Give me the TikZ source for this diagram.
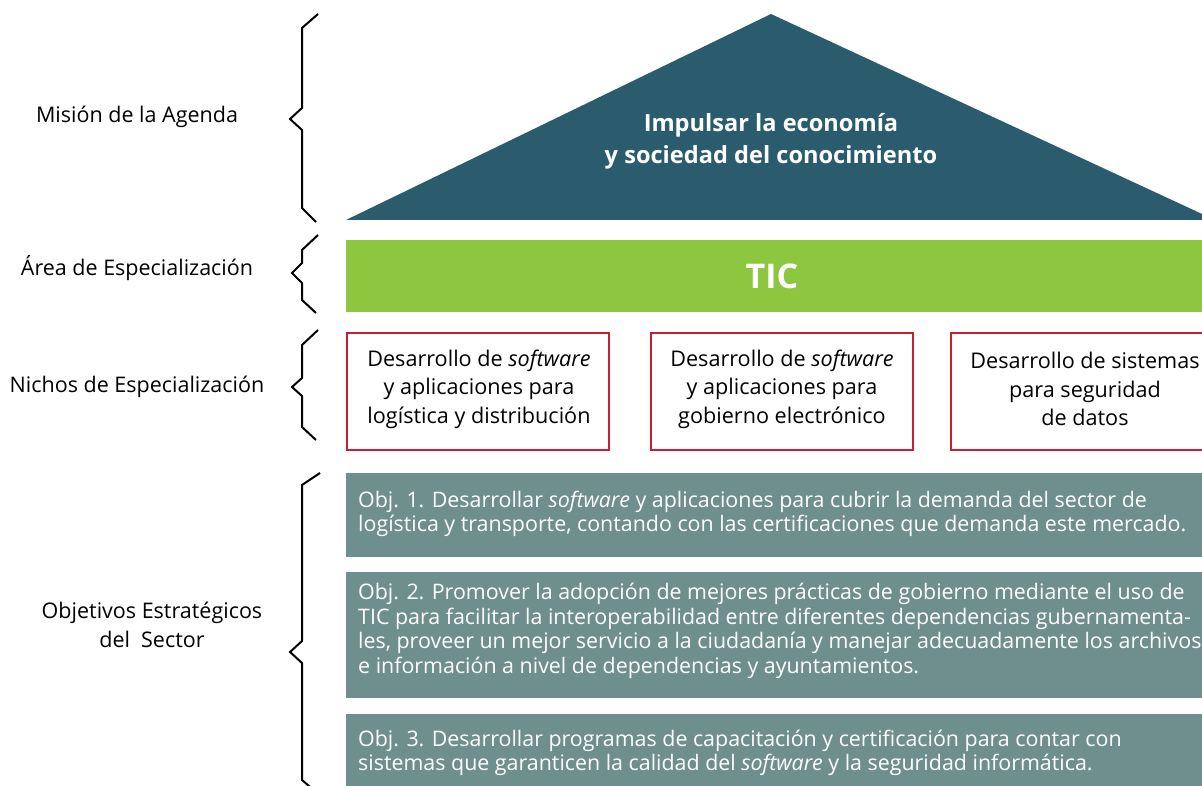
\documentclass[tikz,border=0pt]{standalone}
\usepackage{fontspec}
\setmainfont{Open Sans}
\definecolor{roof}{HTML}{2A5C6E}
\definecolor{ticgreen}{HTML}{8DC63F}
\definecolor{nred}{HTML}{C42032}
\definecolor{objfill}{HTML}{6F8F8F}
\tikzset{
  brace/.style={draw=black, line width=2pt, miter limit=10},
  lbl/.style={font=\fontsize{21.5}{29}\selectfont, align=center, inner sep=0},
  nicho/.style={draw=nred, line width=2pt, fill=white, minimum width=262pt, minimum height=117pt, inner sep=0},
  nichotxt/.style={font=\fontsize{21.6}{28.5}\selectfont, align=center, inner sep=0},
  objbox/.style={fill=objfill, inner sep=0},
  objtxt/.style={font=\fontsize{21.4}{24.6}\selectfont, align=left, text=white, inner sep=0, anchor=west},
}
\begin{document}
\begin{tikzpicture}[x=1pt,y=-1pt]
\useasboundingbox (0,0) rectangle (1202,786);
\clip (0,0) rectangle (1202,786);
% roof
\coordinate (apex) at (771,14);
\coordinate (bl) at (346,220);
\coordinate (br) at (1215,220);
\fill[roof] (apex) -- (bl) -- (br) -- cycle;
\node[text=white, font=\fontsize{23.6}{32}\selectfont\bfseries, align=center, inner sep=0] (mision) at (771,141) {Impulsar la economía\\y sociedad del conocimiento};
% TIC bar
\node[fill=ticgreen, minimum width=870pt, minimum height=72pt, inner sep=0, anchor=north west] (ticbar) at (346,240) {};
\node[text=white, font=\fontsize{34}{40}\selectfont\bfseries, inner sep=0] (tic) at (772,276) {TIC};
% nichos
\node[nicho] (n1) at (478,391) {};
\node[nicho] (n2) at (782,391) {};
\node[nicho] (n3) at (1082,391) {};
\node[nichotxt] (t1) at (479,389) {Desarrollo de \textit{software}\\y aplicaciones para\\logística y distribución};
\node[nichotxt] (t2) at (782,389) {Desarrollo de \textit{software}\\y aplicaciones para\\gobierno electrónico};
\node[nichotxt] (t3) at (1085,389) {Desarrollo de sistemas\\para seguridad\\de datos};
% objetivos
\node[objbox, minimum width=870pt, minimum height=84pt, anchor=north west] (o1) at (346,473) {};
\node[objbox, minimum width=870pt, minimum height=126pt, anchor=north west] (o2) at (346,572) {};
\node[objbox, minimum width=870pt, minimum height=90pt, anchor=north west] (o3) at (346,714) {};
\node[objtxt] (ot1) at (358,514) {Obj. 1. Desarrollar \textit{software} y aplicaciones para cubrir la demanda del sector de\\logística y transporte, contando con las certificaciones que demanda este mercado.};
\node[objtxt] (ot2) at (358,631) {Obj. 2. Promover la adopción de mejores prácticas de gobierno mediante el uso de\\TIC para facilitar la interoperabilidad entre diferentes dependencias gubernamenta-\\les, proveer un mejor servicio a la ciudadanía y manejar adecuadamente los archivos\\e información a nivel de dependencias y ayuntamientos.};
\node[objtxt] (ot3) at (358,753) {Obj. 3. Desarrollar programas de capacitación y certificación para contar con\\sistemas que garanticen la calidad del \textit{software} y la seguridad informática.};
% left labels
\node[lbl] (l1) at (137,117) {Misión de la Agenda};
\node[lbl] (l2) at (137,268) {Área de Especialización};
\node[lbl] (l3) at (137,387) {Nichos de Especialización};
\node[lbl] (l4) at (152,625) {Objetivos Estratégicos\\del\ \ Sector};
% braces
\draw[brace] (318,14) -- (302,28) -- (302,108) -- (290,119) -- (302,130) -- (302,208) -- (316,222);
\draw[brace] (318,235) -- (302,250) -- (302,263) -- (292,273) -- (302,283) -- (302,300) -- (316,313);
\draw[brace] (318,330) -- (302,345) -- (302,378) -- (292,387) -- (302,396) -- (302,427) -- (316,440);
\draw[brace] (320,473) -- (302,485) -- (302,641) -- (290,652) -- (302,663) -- (302,780) -- (316,792);
\end{tikzpicture}
\end{document}
